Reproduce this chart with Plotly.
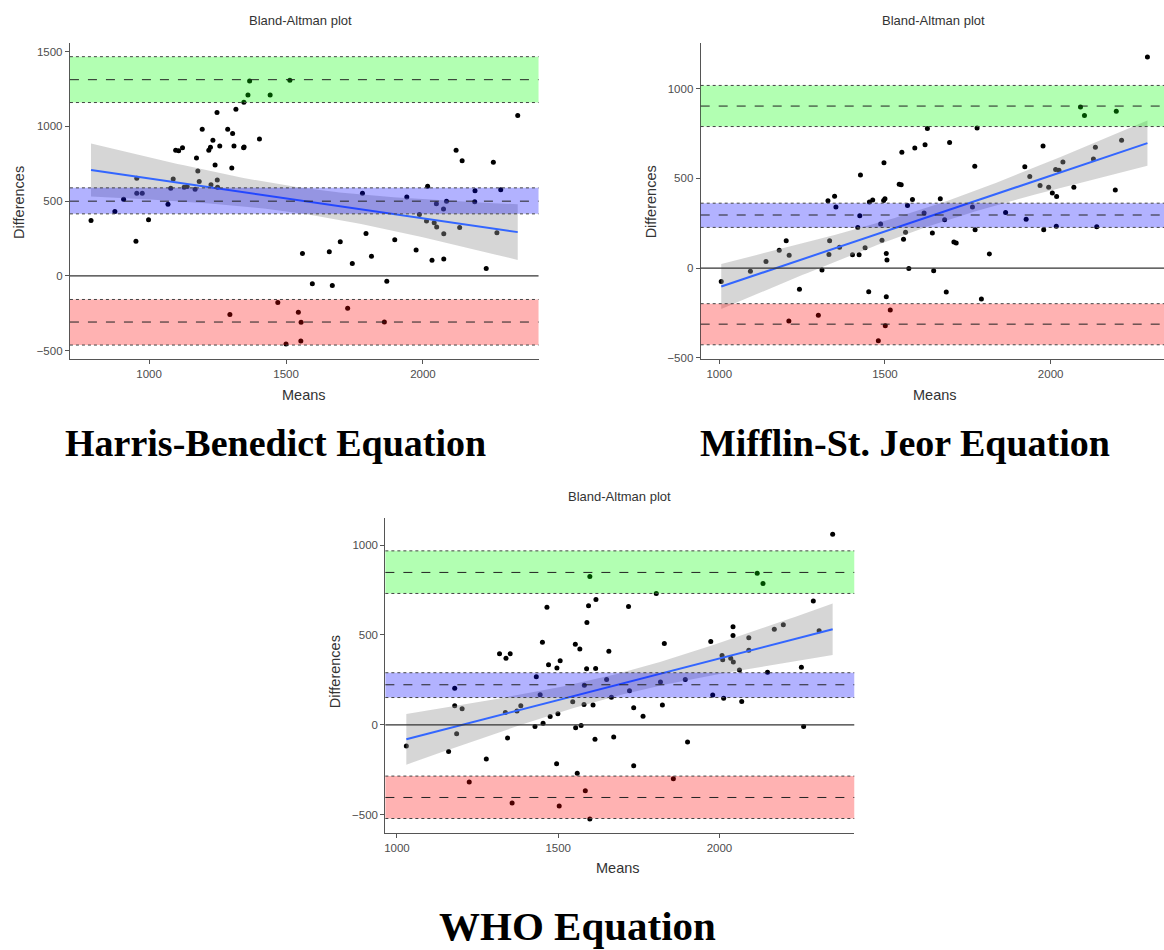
import numpy as np
import plotly.graph_objects as go

W, H = 1164, 950

# ---------------- data ----------------
hb_means = [788,875,907,955,955,975,952,998,1069,1079,1088,1097,1108,1122,1128,1139,1168,1173,1178,1183,
            1194,1218,1224,1226,1233,1241,1248,1249,1250,1258,1287,1302,1305,1310,1317,1345,1346,1347,1361,1367,
            1403,1442,1514,1295,1470,1500,
            2346,2121,2143,2257,2017,2190,2284,2189,1779,1941,2049,2086,2075,1987,2013,2041,2050,2134,
            2076,2270,1792,1897,1698,1975,1560,1658,1812,1742,2033,2076,2231,1596,1669,1868,1545,1555,1554,1725,1859]
hb_diffs = [371,431,513,653,553,553,231,376,480,587,649,840,838,858,593,598,580,789,702,631,
            982,840,860,609,907,742,1093,642,593,869,982,722,953,869,1115,858,1162,862,1211,1304,
            916,1211,1309,-258,-178,-456,
            1073,840,771,760,600,569,576,496,553,527,482,500,447,411,367,356,327,324,
            282,289,284,242,229,173,149,162,131,82,104,113,49,-53,-64,-36,-244,-311,-436,-216,-309]

msj_means = [1006,1094,1141,1181,1202,1211,1210,1242,1299,1310,1328,1333,1331,1348,1352,1363,1402,1418,1422,1424,
             1426,1440,1451,1453,1463,1480,1487,1491,1496,1500,1497,1501,1504,1506,1504,1516,1543,1549,1551,1556,
             1562,1568,1572,
             1583,1590,1618,1621,1628,1643,1647,1667,1680,1685,1695,1708,1715,1764,1771,1772,1778,1791,1815,1864,
             1922,1926,1937,1968,1977,1979,1994,2005,2015,2018,2017,2025,2037,2070,2090,2102,2129,2135,2139,2195,
             2198,2214,2292]
msj_diffs = [-74,-17,37,100,153,72,-294,-118,-262,-11,375,153,76,401,340,116,74,227,74,292,
             519,113,-131,368,380,-404,246,155,377,386,587,-321,81,46,-159,-233,467,464,645,161,
             200,349,-2,
             382,669,307,687,778,196,-15,386,270,-133,700,146,140,340,567,214,781,-172,79,310,
             565,273,510,460,680,214,451,419,549,399,233,545,591,451,898,850,608,674,231,436,
             874,713,1177]

who_means = [1029,1160,1179,1179,1185,1202,1224,1277,1318,1338,1336,1343,1351,1357,1372,1384,1428,1432,1444,1451,
             1453,1465,1470,1475,1495,1496,1499,1503,1506,1545,1553,1554,1559,1567,1571,1580,1581,1584,1589,1588,
             1594,1598,1598,
             1617,1616,1608,1614,1657,1650,1665,1672,1718,1721,1734,1734,1763,1804,1817,1823,1829,1857,1894,1901,
             1973,1979,2008,2010,2013,2035,2043,2042,2042,2062,2069,2091,2091,2117,2135,2149,2170,2198,2254,2261,
             2291,2309,2351]
who_diffs = [-117,-148,203,106,-49,90,-318,-190,395,371,69,-73,395,-435,77,106,-9,267,168,460,
             9,654,334,46,-217,316,62,-451,356,128,449,-16,-269,422,-4,113,221,-367,570,312,
             663,-524,826,
             698,314,110,-80,409,252,153,-68,658,190,95,-228,48,731,238,111,453,-300,252,-95,
             464,166,386,362,148,371,349,546,497,305,130,484,415,844,787,292,532,557,320,-9,
             689,523,1061]

# limits of agreement: [lower CI, value, upper CI] for bias, upper LoA, lower LoA
hb_bias  = [415, 500, 589]
hb_upper = [1160, 1313, 1467]
hb_lower = [-463, -309, -158]
msj_bias  = [227, 296, 362]
msj_upper = [789, 903, 1018]
msj_lower = [-427, -312, -198]
who_bias  = [152, 223, 290]
who_upper = [731, 848, 968]
who_lower = [-521, -404, -285]

panel_titles = ["Harris-Benedict Equation", "Mifflin-St. Jeor Equation", "WHO Equation"]

# ---------------- layout geometry (pixels) ----------------
def px(xp):
    return xp / W

def py(yp):
    return 1 - yp / H

panels = [
    dict(x=hb_means, y=hb_diffs, bias=hb_bias, up=hb_upper, lo=hb_lower,
         dom_x=(69, 538), dom_y=(43.3, 360.7), xr=(711, 2422), yr=(-555, 1558),
         yt=[-500, 0, 500, 1000, 1500], xt=[1000, 1500, 2000],
         title=(300, 21), means=(303, 397), diffs=(18, 203), cap=(275, 445), capsize=38),
    dict(x=msj_means, y=msj_diffs, bias=msj_bias, up=msj_upper, lo=msj_lower,
         dom_x=(700.3, 1164), dom_y=(43.3, 360.5), xr=(944, 2342), yr=(-504, 1254),
         yt=[-500, 0, 500, 1000], xt=[1000, 1500, 2000],
         title=(933, 21), means=(935, 397), diffs=(650, 203), cap=(905, 445), capsize=38),
    dict(x=who_means, y=who_diffs, bias=who_bias, up=who_upper, lo=who_lower,
         dom_x=(384.7, 854), dom_y=(520.7, 837.3), xr=(964, 2418), yr=(-601, 1151),
         yt=[-500, 0, 500, 1000], xt=[1000, 1500, 2000],
         title=(619, 499), means=(618, 873), diffs=(335, 675), cap=(577, 931), capsize=41),
]

fig = go.Figure()
shapes = []
annotations = []
TXT = "Liberation Sans, Arial, sans-serif"

for i, p in enumerate(panels):
    k = "" if i == 0 else str(i + 1)
    xa, ya = "x" + k, "y" + k
    xs = np.array(p["x"], dtype=float)
    ys = np.array(p["y"], dtype=float)

    # points
    fig.add_trace(go.Scatter(x=xs, y=ys, mode="markers", xaxis=xa, yaxis=ya,
                             marker=dict(color="black", size=5), showlegend=False,
                             hoverinfo="skip"))

    # linear fit with 95% CI
    n = len(xs)
    b, a = np.polyfit(xs, ys, 1)
    resid = ys - (a + b * xs)
    s = np.sqrt(np.sum(resid ** 2) / (n - 2))
    xbar = xs.mean()
    sxx = np.sum((xs - xbar) ** 2)
    grid = np.linspace(xs.min(), xs.max(), 80)
    yhat = a + b * grid
    se = s * np.sqrt(1 / n + (grid - xbar) ** 2 / sxx)
    t = 1.989
    fig.add_trace(go.Scatter(x=np.concatenate([grid, grid[::-1]]),
                             y=np.concatenate([yhat + t * se, (yhat - t * se)[::-1]]),
                             xaxis=xa, yaxis=ya, fill="toself", mode="lines",
                             line=dict(width=0), fillcolor="rgba(153,153,153,0.4)",
                             showlegend=False, hoverinfo="skip"))
    fig.add_trace(go.Scatter(x=grid, y=yhat, mode="lines", xaxis=xa, yaxis=ya,
                             line=dict(color="#3366FF", width=2), showlegend=False,
                             hoverinfo="skip"))

    # bands
    for lims, col in [(p["up"], "rgba(0,255,0,0.3)"), (p["bias"], "rgba(0,0,255,0.3)"),
                      (p["lo"], "rgba(255,0,0,0.3)")]:
        shapes.append(dict(type="rect", xref=xa + " domain", yref=ya, x0=0, x1=1,
                           y0=lims[0], y1=lims[2], fillcolor=col, line=dict(width=0),
                           layer="above"))
        for v in (lims[0], lims[2]):
            shapes.append(dict(type="line", xref=xa + " domain", yref=ya, x0=0, x1=1,
                               y0=v, y1=v, line=dict(color="#444444", width=1, dash="dot"),
                               layer="above"))
        shapes.append(dict(type="line", xref=xa + " domain", yref=ya, x0=0, x1=1,
                           y0=lims[1], y1=lims[1],
                           line=dict(color="#222222", width=1, dash="dash"), layer="above"))
    # zero line
    shapes.append(dict(type="line", xref=xa + " domain", yref=ya, x0=0, x1=1, y0=0, y1=0,
                       line=dict(color="#333333", width=1.2), layer="above"))

    axis_common = dict(showgrid=False, zeroline=False, showline=True, linecolor="#555555",
                       linewidth=1.2, ticks="outside", ticklen=4, tickcolor="#555555",
                       tickfont=dict(family=TXT, size=11.5, color="#4d4d4d"))
    fig.update_layout(**{
        ("xaxis" + k): dict(domain=[px(p["dom_x"][0]), px(p["dom_x"][1])], anchor=ya,
                            range=list(p["xr"]), tickvals=p["xt"], **axis_common),
        ("yaxis" + k): dict(domain=[py(p["dom_y"][1]), py(p["dom_y"][0])], anchor=xa,
                            range=list(p["yr"]), tickvals=p["yt"], **axis_common),
    })

    annotations.append(dict(text="Bland-Altman plot", x=px(p["title"][0]), y=py(p["title"][1]),
                            xref="paper", yref="paper", showarrow=False, xanchor="center",
                            yanchor="middle", font=dict(family=TXT, size=13, color="#333333")))
    annotations.append(dict(text="Means", x=px(p["means"][0]), y=py(p["means"][1]),
                            xref="paper", yref="paper", showarrow=False, xanchor="center",
                            yanchor="middle", font=dict(family=TXT, size=14.5, color="#333333")))
    annotations.append(dict(text="Differences", x=px(p["diffs"][0]), y=py(p["diffs"][1]),
                            xref="paper", yref="paper", showarrow=False, xanchor="center",
                            yanchor="middle", textangle=-90,
                            font=dict(family=TXT, size=14.5, color="#333333")))
    annotations.append(dict(text="<b>" + panel_titles[i] + "</b>", x=px(p["cap"][0]),
                            y=py(p["cap"][1]), xref="paper", yref="paper", showarrow=False,
                            xanchor="center", yanchor="middle",
                            font=dict(family="Liberation Serif, Times New Roman, serif",
                                      size=p["capsize"], color="black")))

fig.update_layout(width=W, height=H, margin=dict(l=0, r=0, t=0, b=0),
                  paper_bgcolor="white", plot_bgcolor="white",
                  shapes=shapes, annotations=annotations, showlegend=False)

fig.write_html("out.html")
